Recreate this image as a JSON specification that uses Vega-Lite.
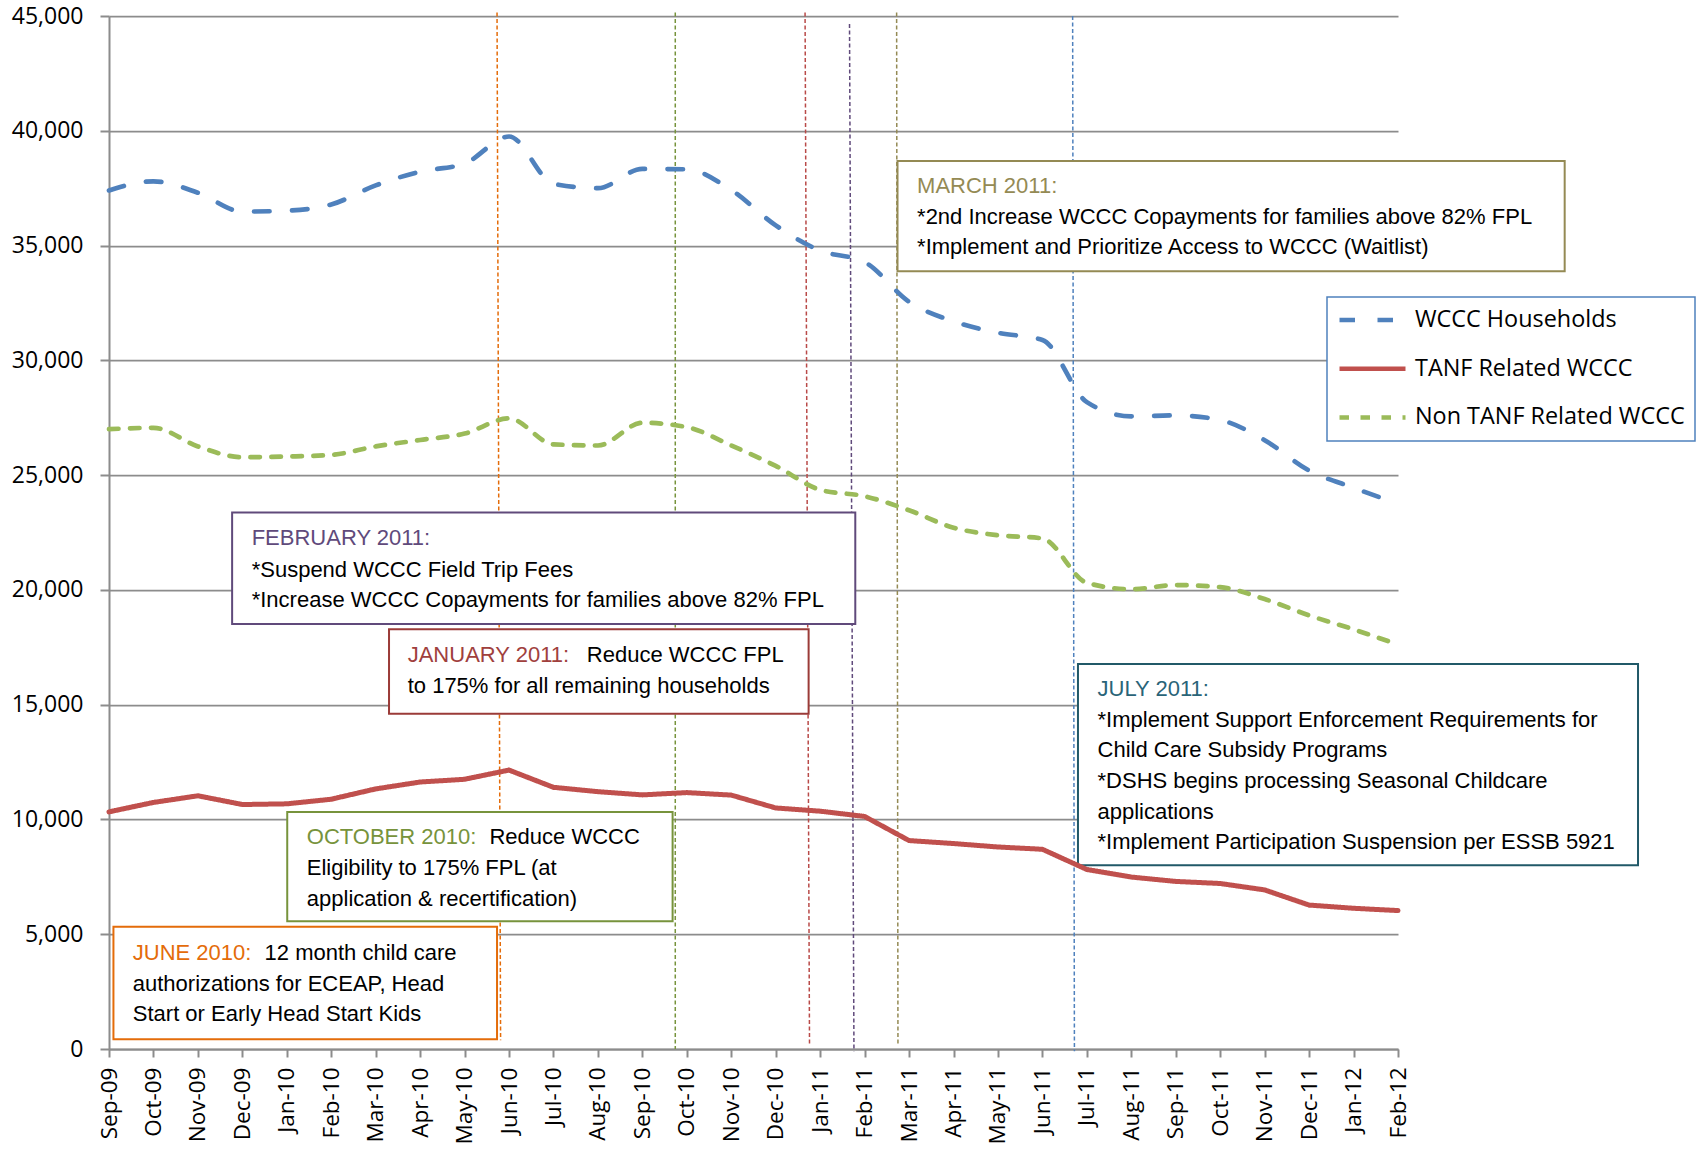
{
  "$schema": "https://vega.github.io/schema/vega-lite/v6.json",
  "width": 1289,
  "height": 1033,
  "autosize": {"type": "none"},
  "padding": {"left": 109, "top": 16, "right": 298, "bottom": 100},
  "background": "white",
  "config": {
    "view": {"stroke": null},
    "legend": {"strokeWidth": 1.5}
  },
  "datasets": {
    "series": [
      {"t": 0, "month": "Sep-09", "series": "WCCC Households", "value": 37400},
      {"t": 1, "month": "Oct-09", "series": "WCCC Households", "value": 37800},
      {"t": 2, "month": "Nov-09", "series": "WCCC Households", "value": 37300},
      {"t": 3, "month": "Dec-09", "series": "WCCC Households", "value": 36480},
      {"t": 4, "month": "Jan-10", "series": "WCCC Households", "value": 36520},
      {"t": 5, "month": "Feb-10", "series": "WCCC Households", "value": 36790},
      {"t": 6, "month": "Mar-10", "series": "WCCC Households", "value": 37620},
      {"t": 7, "month": "Apr-10", "series": "WCCC Households", "value": 38220},
      {"t": 8, "month": "May-10", "series": "WCCC Households", "value": 38570},
      {"t": 9, "month": "Jun-10", "series": "WCCC Households", "value": 39750},
      {"t": 10, "month": "Jul-10", "series": "WCCC Households", "value": 37690},
      {"t": 11, "month": "Aug-10", "series": "WCCC Households", "value": 37500},
      {"t": 12, "month": "Sep-10", "series": "WCCC Households", "value": 38340},
      {"t": 13, "month": "Oct-10", "series": "WCCC Households", "value": 38320},
      {"t": 14, "month": "Nov-10", "series": "WCCC Households", "value": 37420},
      {"t": 15, "month": "Dec-10", "series": "WCCC Households", "value": 35880},
      {"t": 16, "month": "Jan-11", "series": "WCCC Households", "value": 34780},
      {"t": 17, "month": "Feb-11", "series": "WCCC Households", "value": 34280},
      {"t": 18, "month": "Mar-11", "series": "WCCC Households", "value": 32550},
      {"t": 19, "month": "Apr-11", "series": "WCCC Households", "value": 31700},
      {"t": 20, "month": "May-11", "series": "WCCC Households", "value": 31200},
      {"t": 21, "month": "Jun-11", "series": "WCCC Households", "value": 30890},
      {"t": 22, "month": "Jul-11", "series": "WCCC Households", "value": 28180},
      {"t": 23, "month": "Aug-11", "series": "WCCC Households", "value": 27560},
      {"t": 24, "month": "Sep-11", "series": "WCCC Households", "value": 27600},
      {"t": 25, "month": "Oct-11", "series": "WCCC Households", "value": 27400},
      {"t": 26, "month": "Nov-11", "series": "WCCC Households", "value": 26520},
      {"t": 27, "month": "Dec-11", "series": "WCCC Households", "value": 25200},
      {"t": 28, "month": "Jan-12", "series": "WCCC Households", "value": 24450},
      {"t": 29, "month": "Feb-12", "series": "WCCC Households", "value": 23750},
      {"t": 0, "month": "Sep-09", "series": "TANF Related WCCC", "value": 10330},
      {"t": 1, "month": "Oct-09", "series": "TANF Related WCCC", "value": 10740},
      {"t": 2, "month": "Nov-09", "series": "TANF Related WCCC", "value": 11030},
      {"t": 3, "month": "Dec-09", "series": "TANF Related WCCC", "value": 10650},
      {"t": 4, "month": "Jan-10", "series": "TANF Related WCCC", "value": 10680},
      {"t": 5, "month": "Feb-10", "series": "TANF Related WCCC", "value": 10880},
      {"t": 6, "month": "Mar-10", "series": "TANF Related WCCC", "value": 11330},
      {"t": 7, "month": "Apr-10", "series": "TANF Related WCCC", "value": 11630},
      {"t": 8, "month": "May-10", "series": "TANF Related WCCC", "value": 11750},
      {"t": 9, "month": "Jun-10", "series": "TANF Related WCCC", "value": 12150},
      {"t": 10, "month": "Jul-10", "series": "TANF Related WCCC", "value": 11400},
      {"t": 11, "month": "Aug-10", "series": "TANF Related WCCC", "value": 11210},
      {"t": 12, "month": "Sep-10", "series": "TANF Related WCCC", "value": 11070},
      {"t": 13, "month": "Oct-10", "series": "TANF Related WCCC", "value": 11170},
      {"t": 14, "month": "Nov-10", "series": "TANF Related WCCC", "value": 11060},
      {"t": 15, "month": "Dec-10", "series": "TANF Related WCCC", "value": 10500},
      {"t": 16, "month": "Jan-11", "series": "TANF Related WCCC", "value": 10360},
      {"t": 17, "month": "Feb-11", "series": "TANF Related WCCC", "value": 10130},
      {"t": 18, "month": "Mar-11", "series": "TANF Related WCCC", "value": 9080},
      {"t": 19, "month": "Apr-11", "series": "TANF Related WCCC", "value": 8950},
      {"t": 20, "month": "May-11", "series": "TANF Related WCCC", "value": 8800},
      {"t": 21, "month": "Jun-11", "series": "TANF Related WCCC", "value": 8700},
      {"t": 22, "month": "Jul-11", "series": "TANF Related WCCC", "value": 7820},
      {"t": 23, "month": "Aug-11", "series": "TANF Related WCCC", "value": 7490},
      {"t": 24, "month": "Sep-11", "series": "TANF Related WCCC", "value": 7300},
      {"t": 25, "month": "Oct-11", "series": "TANF Related WCCC", "value": 7210},
      {"t": 26, "month": "Nov-11", "series": "TANF Related WCCC", "value": 6930},
      {"t": 27, "month": "Dec-11", "series": "TANF Related WCCC", "value": 6270},
      {"t": 28, "month": "Jan-12", "series": "TANF Related WCCC", "value": 6130},
      {"t": 29, "month": "Feb-12", "series": "TANF Related WCCC", "value": 6030},
      {"t": 0, "month": "Sep-09", "series": "Non TANF Related WCCC", "value": 27000},
      {"t": 1, "month": "Oct-09", "series": "Non TANF Related WCCC", "value": 27060},
      {"t": 2, "month": "Nov-09", "series": "Non TANF Related WCCC", "value": 26250},
      {"t": 3, "month": "Dec-09", "series": "Non TANF Related WCCC", "value": 25780},
      {"t": 4, "month": "Jan-10", "series": "Non TANF Related WCCC", "value": 25810},
      {"t": 5, "month": "Feb-10", "series": "Non TANF Related WCCC", "value": 25880},
      {"t": 6, "month": "Mar-10", "series": "Non TANF Related WCCC", "value": 26250},
      {"t": 7, "month": "Apr-10", "series": "Non TANF Related WCCC", "value": 26530},
      {"t": 8, "month": "May-10", "series": "Non TANF Related WCCC", "value": 26810},
      {"t": 9, "month": "Jun-10", "series": "Non TANF Related WCCC", "value": 27470},
      {"t": 10, "month": "Jul-10", "series": "Non TANF Related WCCC", "value": 26340},
      {"t": 11, "month": "Aug-10", "series": "Non TANF Related WCCC", "value": 26290},
      {"t": 12, "month": "Sep-10", "series": "Non TANF Related WCCC", "value": 27280},
      {"t": 13, "month": "Oct-10", "series": "Non TANF Related WCCC", "value": 27090},
      {"t": 14, "month": "Nov-10", "series": "Non TANF Related WCCC", "value": 26290},
      {"t": 15, "month": "Dec-10", "series": "Non TANF Related WCCC", "value": 25400},
      {"t": 16, "month": "Jan-11", "series": "Non TANF Related WCCC", "value": 24360},
      {"t": 17, "month": "Feb-11", "series": "Non TANF Related WCCC", "value": 24080},
      {"t": 18, "month": "Mar-11", "series": "Non TANF Related WCCC", "value": 23470},
      {"t": 19, "month": "Apr-11", "series": "Non TANF Related WCCC", "value": 22710},
      {"t": 20, "month": "May-11", "series": "Non TANF Related WCCC", "value": 22380},
      {"t": 21, "month": "Jun-11", "series": "Non TANF Related WCCC", "value": 22240},
      {"t": 22, "month": "Jul-11", "series": "Non TANF Related WCCC", "value": 20310},
      {"t": 23, "month": "Aug-11", "series": "Non TANF Related WCCC", "value": 20030},
      {"t": 24, "month": "Sep-11", "series": "Non TANF Related WCCC", "value": 20210},
      {"t": 25, "month": "Oct-11", "series": "Non TANF Related WCCC", "value": 20120},
      {"t": 26, "month": "Nov-11", "series": "Non TANF Related WCCC", "value": 19600},
      {"t": 27, "month": "Dec-11", "series": "Non TANF Related WCCC", "value": 18890},
      {"t": 28, "month": "Jan-12", "series": "Non TANF Related WCCC", "value": 18280},
      {"t": 29, "month": "Feb-12", "series": "Non TANF Related WCCC", "value": 17620}
    ],
    "events": [
      {"event": "JUNE 2010", "t": 8.73, "t2": 8.81, "v": 45150, "v2": 380},
      {"event": "OCTOBER 2010", "t": 12.74, "t2": 12.74, "v": 45150, "v2": 0},
      {"event": "JANUARY 2011", "t": 15.66, "t2": 15.76, "v": 45150, "v2": 240},
      {"event": "FEBRUARY 2011", "t": 16.66, "t2": 16.76, "v": 44650, "v2": -100},
      {"event": "MARCH 2011", "t": 17.72, "t2": 17.75, "v": 45150, "v2": 240},
      {"event": "JULY 2011", "t": 21.68, "t2": 21.72, "v": 45000, "v2": -100}
    ],
    "boxes": [
      {"event": "JUNE 2010", "t": 0.10, "t2": 8.73, "v": 5325, "v2": 424},
      {"event": "OCTOBER 2010", "t": 4.01, "t2": 12.68, "v": 10319, "v2": 5560},
      {"event": "JANUARY 2011", "t": 6.30, "t2": 15.74, "v": 18283, "v2": 14607},
      {"event": "FEBRUARY 2011", "t": 2.77, "t2": 16.79, "v": 23372, "v2": 18518},
      {"event": "MARCH 2011", "t": 17.74, "t2": 32.75, "v": 38686, "v2": 33879},
      {"event": "JULY 2011", "t": 21.80, "t2": 34.40, "v": 16775, "v2": 8010}
    ],
    "titles": [
      {"event": "JUNE 2010", "t": 0.535, "v": 4194, "text": "JUNE 2010:"},
      {"event": "OCTOBER 2010", "t": 4.45, "v": 9236, "text": "OCTOBER 2010:"},
      {"event": "JANUARY 2011", "t": 6.72, "v": 17152, "text": "JANUARY 2011:"},
      {"event": "FEBRUARY 2011", "t": 3.21, "v": 22241, "text": "FEBRUARY 2011:"},
      {"event": "MARCH 2011", "t": 18.18, "v": 37602, "text": "MARCH 2011:"},
      {"event": "JULY 2011", "t": 22.24, "v": 15691, "text": "JULY 2011:"}
    ],
    "notes": [
      {"t": 3.50, "v": 4194, "text": "12 month child care"},
      {"t": 0.535, "v": 2827, "text": "authorizations for ECEAP, Head"},
      {"t": 0.535, "v": 1508, "text": "Start or Early Head Start Kids"},
      {"t": 8.56, "v": 9236, "text": "Reduce WCCC"},
      {"t": 4.45, "v": 7869, "text": "Eligibility to 175% FPL (at"},
      {"t": 4.45, "v": 6550, "text": "application & recertification)"},
      {"t": 10.75, "v": 17152, "text": "Reduce WCCC FPL"},
      {"t": 6.72, "v": 15832, "text": "to 175% for all remaining households"},
      {"t": 3.21, "v": 20874, "text": "*Suspend WCCC Field Trip Fees"},
      {"t": 3.21, "v": 19555, "text": "*Increase WCCC Copayments for families above 82% FPL"},
      {"t": 18.18, "v": 36235, "text": "*2nd Increase WCCC Copayments for families above 82% FPL"},
      {"t": 18.18, "v": 34916, "text": "*Implement and Prioritize Access to WCCC (Waitlist)"},
      {"t": 22.24, "v": 14324, "text": "*Implement Support Enforcement Requirements for"},
      {"t": 22.24, "v": 13005, "text": "Child Care  Subsidy Programs"},
      {"t": 22.24, "v": 11686, "text": "*DSHS begins processing  Seasonal Childcare"},
      {"t": 22.24, "v": 10319, "text": "applications"},
      {"t": 22.24, "v": 9000, "text": "*Implement Participation Suspension per ESSB 5921"}
    ]
  },
  "resolve": {"scale": {"color": "independent", "strokeDash": "independent"}},
  "layer": [
    {
      "data": {"name": "events"},
      "mark": {"type": "rule", "strokeWidth": 1.5, "strokeDash": [4, 2.5]},
      "encoding": {
        "x": {"field": "t", "type": "quantitative", "scale": {"domain": [0, 29], "nice": false, "zero": false},
          "axis": {"title": null, "values": [0,1,2,3,4,5,6,7,8,9,10,11,12,13,14,15,16,17,18,19,20,21,22,23,24,25,26,27,28,29],
            "labelExpr": "['Sep-09','Oct-09','Nov-09','Dec-09','Jan-10','Feb-10','Mar-10','Apr-10','May-10','Jun-10','Jul-10','Aug-10','Sep-10','Oct-10','Nov-10','Dec-10','Jan-11','Feb-11','Mar-11','Apr-11','May-11','Jun-11','Jul-11','Aug-11','Sep-11','Oct-11','Nov-11','Dec-11','Jan-12','Feb-12'][datum.value]",
            "labelAngle": -90, "labelAlign": "right", "labelBaseline": "middle", "labelFont": "Open Sans", "labelFontSize": 22.5, "labelColor": "#000000",
            "labelPadding": 10, "tickSize": 8, "tickWidth": 2, "tickColor": "#8C8C8C", "domainColor": "#8C8C8C", "domainWidth": 2, "grid": false, "labelOverlap": false, "labelBound": false, "labelFlush": false}},
        "x2": {"field": "t2"},
        "y": {"field": "v", "type": "quantitative", "scale": {"domain": [0, 45000], "nice": false, "zero": false},
          "axis": {"title": null, "values": [0,5000,10000,15000,20000,25000,30000,35000,40000,45000], "format": ",.0f",
            "labelFont": "Open Sans", "labelFontSize": 23, "labelColor": "#000000", "labelPadding": 17, "tickSize": 9, "tickWidth": 2, "tickColor": "#8C8C8C",
            "domainColor": "#8C8C8C", "domainWidth": 2, "grid": true, "gridColor": "#8C8C8C", "gridWidth": 1.75, "labelOverlap": false}},
        "y2": {"field": "v2"},
        "color": {"field": "event", "type": "nominal", "legend": null,
          "scale": {"domain": ["JUNE 2010", "OCTOBER 2010", "JANUARY 2011", "FEBRUARY 2011", "MARCH 2011", "JULY 2011"],
            "range": ["#E46C0A", "#77933C", "#B94A48", "#604A7B", "#948A54", "#4F81BD"]}}
      }
    },
    {
      "data": {"name": "boxes"},
      "mark": {"type": "rect", "fill": "white", "strokeWidth": 2},
      "encoding": {
        "x": {"field": "t", "type": "quantitative"},
        "x2": {"field": "t2"},
        "y": {"field": "v", "type": "quantitative"},
        "y2": {"field": "v2"},
        "stroke": {"field": "event", "type": "nominal", "legend": null,
          "scale": {"domain": ["JUNE 2010", "OCTOBER 2010", "JANUARY 2011", "FEBRUARY 2011", "MARCH 2011", "JULY 2011"],
            "range": ["#E46C0A", "#77933C", "#9B3B38", "#604A7B", "#948A54", "#215968"]}}
      }
    },
    {
      "data": {"name": "series"},
      "encoding": {
        "x": {"field": "t", "type": "quantitative"},
        "y": {"field": "value", "type": "quantitative"},
        "color": {"field": "series", "type": "nominal",
          "scale": {"domain": ["WCCC Households", "TANF Related WCCC", "Non TANF Related WCCC"], "range": ["#4F81BD", "#C0504D", "#9BBB59"]},
          "legend": {"title": null, "orient": "none", "legendX": 1218, "legendY": 281, "strokeColor": "#4F81BD", "fillColor": "white", "padding": 10,
            "labelFont": "Open Sans", "labelFontSize": 23.4, "labelColor": "#000000", "labelOffset": 7, "symbolType": "stroke", "symbolSize": 4356,
            "symbolStrokeWidth": 4.5, "clipHeight": 26, "rowPadding": 22.7, "labelLimit": 400}},
        "strokeDash": {"field": "series", "type": "nominal",
          "scale": {"domain": ["WCCC Households", "TANF Related WCCC", "Non TANF Related WCCC"], "range": [[15.5, 22.5], [1, 0], [9.5, 11.5]]},
          "legend": {"title": null, "orient": "none", "legendX": 1218, "legendY": 281, "strokeColor": "#4F81BD", "fillColor": "white", "padding": 10,
            "labelFont": "Open Sans", "labelFontSize": 23.4, "labelColor": "#000000", "labelOffset": 7, "symbolType": "stroke", "symbolSize": 4356,
            "symbolStrokeWidth": 4.5, "clipHeight": 26, "rowPadding": 22.7, "labelLimit": 400}}
      },
      "layer": [
        {
          "transform": [{"filter": "datum.series != 'TANF Related WCCC'"}],
          "mark": {"type": "line", "strokeWidth": 4.7, "strokeCap": "round", "interpolate": "monotone"}
        },
        {
          "transform": [{"filter": "datum.series == 'TANF Related WCCC'"}],
          "mark": {"type": "line", "strokeWidth": 5, "strokeCap": "round", "strokeJoin": "round"}
        }
      ]
    },
    {
      "data": {"name": "titles"},
      "mark": {"type": "text", "align": "left", "baseline": "middle", "font": "Liberation Sans", "fontSize": 22},
      "encoding": {
        "x": {"field": "t", "type": "quantitative"},
        "y": {"field": "v", "type": "quantitative"},
        "text": {"field": "text"},
        "fill": {"field": "event", "type": "nominal", "legend": null,
          "scale": {"domain": ["JUNE 2010", "OCTOBER 2010", "JANUARY 2011", "FEBRUARY 2011", "MARCH 2011", "JULY 2011"],
            "range": ["#E46C0A", "#77933C", "#A0403D", "#604A7B", "#948A54", "#2A6478"]}}
      }
    },
    {
      "data": {"name": "notes"},
      "mark": {"type": "text", "align": "left", "baseline": "middle", "font": "Liberation Sans", "fontSize": 22, "color": "#000000"},
      "encoding": {
        "x": {"field": "t", "type": "quantitative"},
        "y": {"field": "v", "type": "quantitative"},
        "text": {"field": "text"}
      }
    }
  ]
}
